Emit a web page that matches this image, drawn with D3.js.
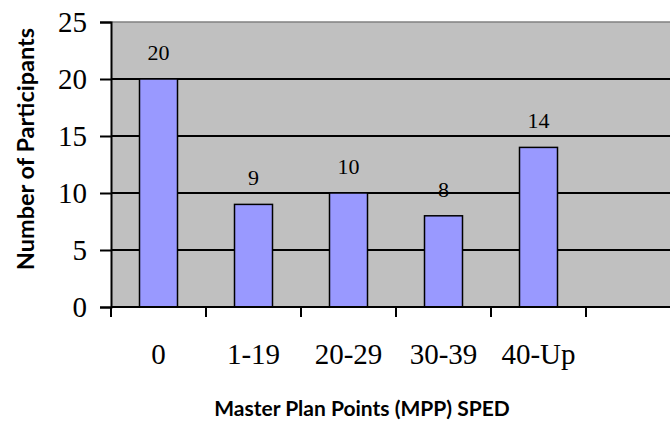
<!DOCTYPE html>
<html>
<head>
<meta charset="utf-8">
<script src="https://cdn.jsdelivr.net/npm/d3@7"></script>
<style>
  html, body { margin: 0; padding: 0; background: #ffffff; }
  svg { display: block; }
</style>
</head>
<body>
<svg id="chart" width="670" height="423"></svg>
<script>
// Participants by Master Plan Points bracket
const categories = ["0", "1-19", "20-29", "30-39", "40-Up"];
const participants = [20, 9, 10, 8, 14];
const yTicks = [0, 5, 10, 15, 20, 25];
// one trailing empty slot on the category axis
const slots = categories.concat([" "]);

const svg = d3.select("#chart");
const plot = { left: 111, right: 681, top: 22, bottom: 307 };

const x = d3.scaleBand().domain(slots).range([plot.left, plot.right]).padding(0);
const y = d3.scaleLinear().domain([0, 25]).range([plot.bottom, plot.top]);
const barW = x.bandwidth() * 0.4;

const serif = "'Liberation Serif', 'Times New Roman', serif";
const sans = "Lato, 'Open Sans', sans-serif";

// plot background
svg.append("rect")
  .attr("x", plot.left).attr("y", plot.top)
  .attr("width", plot.right - plot.left).attr("height", plot.bottom - plot.top)
  .attr("fill", "#c0c0c0");

// top border
svg.append("line")
  .attr("x1", plot.left).attr("x2", plot.right)
  .attr("y1", y(25)).attr("y2", y(25))
  .attr("stroke", "#808080").attr("stroke-width", 1.5);

// horizontal gridlines
svg.append("g").selectAll("line")
  .data(yTicks.filter(d => d > 0 && d < 25))
  .join("line")
  .attr("x1", plot.left).attr("x2", plot.right)
  .attr("y1", d => y(d)).attr("y2", d => y(d))
  .attr("stroke", "#000").attr("stroke-width", 2);

// bars
svg.append("g").selectAll("rect")
  .data(categories)
  .join("rect")
  .attr("x", (d) => x(d) + (x.bandwidth() - barW) / 2)
  .attr("y", (d, i) => y(participants[i]))
  .attr("width", barW)
  .attr("height", (d, i) => y(0) - y(participants[i]))
  .attr("fill", "#9999ff")
  .attr("stroke", "#000")
  .attr("stroke-width", 1.5);

// value labels
svg.append("g").selectAll("text")
  .data(categories)
  .join("text")
  .attr("x", d => x(d) + x.bandwidth() / 2)
  .attr("y", (d, i) => y(participants[i]) - 19)
  .attr("text-anchor", "middle")
  .attr("font-family", serif)
  .attr("font-size", 22)
  .attr("fill", "#000")
  .text((d, i) => participants[i]);

// y axis
const yAxis = svg.append("g")
  .attr("transform", `translate(${plot.left},0)`)
  .call(d3.axisLeft(y).tickValues(yTicks).tickSize(11).tickPadding(13));
yAxis.select(".domain").attr("stroke", "#000").attr("stroke-width", 2);
yAxis.selectAll(".tick line").attr("stroke", "#000").attr("stroke-width", 2);
yAxis.selectAll(".tick text")
  .attr("font-family", serif).attr("font-size", 29).attr("fill", "#000");

// x axis: ticks on slot boundaries
const xAxis = svg.append("g")
  .attr("transform", `translate(0,${plot.bottom})`);
xAxis.append("line")
  .attr("x1", plot.left).attr("x2", plot.right)
  .attr("stroke", "#000").attr("stroke-width", 2);
xAxis.selectAll(".bound")
  .data(slots)
  .join("line")
  .attr("class", "bound")
  .attr("x1", d => x(d)).attr("x2", d => x(d))
  .attr("y1", 0).attr("y2", 10)
  .attr("stroke", "#000").attr("stroke-width", 2);
xAxis.selectAll(".cat")
  .data(categories)
  .join("text")
  .attr("class", "cat")
  .attr("x", d => x(d) + x.bandwidth() / 2)
  .attr("y", 57)
  .attr("text-anchor", "middle")
  .attr("font-family", serif)
  .attr("font-size", 29)
  .attr("fill", "#000")
  .text(d => d);

// axis titles
svg.append("text")
  .attr("x", 362).attr("y", 416)
  .attr("text-anchor", "middle")
  .attr("font-family", sans).attr("font-weight", "bold")
  .attr("font-size", 21)
  .attr("fill", "#000")
  .text("Master Plan Points (MPP) SPED");

svg.append("text")
  .attr("transform", "translate(34,149) rotate(-90)")
  .attr("text-anchor", "middle")
  .attr("font-family", sans).attr("font-weight", "bold")
  .attr("font-size", 23.5)
  .attr("fill", "#000")
  .text("Number of Participants");
</script>
</body>
</html>
